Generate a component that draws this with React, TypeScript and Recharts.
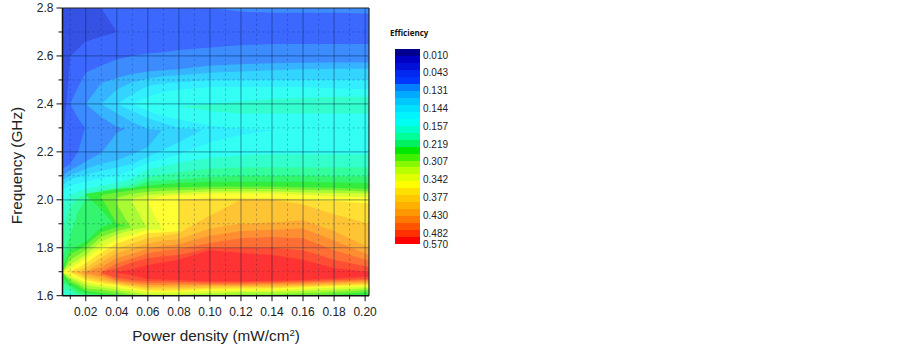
import { ComposedChart, Area, XAxis, YAxis, ReferenceLine } from "recharts";

const powerDensity = [0.005, 0.01, 0.015, 0.02, 0.03, 0.04, 0.05, 0.06, 0.07, 0.08, 0.1, 0.12, 0.14, 0.16, 0.18, 0.2025];

const xMajor = [0.02, 0.04, 0.06, 0.08, 0.1, 0.12, 0.14, 0.16, 0.18, 0.2];
const xMinor = [0.01, 0.03, 0.05, 0.07, 0.09, 0.11, 0.13, 0.15, 0.17, 0.19];
const yMajor = [1.6, 1.8, 2.0, 2.2, 2.4, 2.6, 2.8];
const yMinor = [1.7, 1.9, 2.1, 2.3, 2.5, 2.7];

const legendLabels = ["0.010", "0.043", "0.131", "0.144", "0.157", "0.219", "0.307", "0.342", "0.377", "0.430", "0.482"];
const legendLast = "0.570";
const legendColors = [
    "#000090", "#0000C4", "#0010D8", "#0028EE", "#0036FF", "#0080FF", "#00AAFF", "#00C8FF",
    "#00E0FF", "#00F4FF", "#00FFF0", "#00FFC8", "#00FF99", "#00F060", "#00E800", "#40F000",
    "#88F800", "#B8FF00", "#E0FF00", "#FFFF00", "#FFE000", "#FFC800", "#FFB000", "#FF9800",
    "#FF7800", "#FF5400", "#FF3000", "#FF0000",
];

const n = null;
const bottomEdge = [1.6, 1.6, 1.6, 1.6, 1.6, 1.6, 1.6, 1.6, 1.6, 1.6, 1.6, 1.6, 1.6, 1.6, 1.6, 1.6];
const topEdge = [2.8, 2.8, 2.8, 2.8, 2.8, 2.8, 2.8, 2.8, 2.8, 2.8, 2.8, 2.8, 2.8, 2.8, 2.8, 2.8];

// darkest blue corner
const cornerLow = [2.2, 2.6, 2.63, 2.66, 2.68, 2.7, n, n, n, n, n, n, n, n, n, n];
const cornerHigh = [2.8, 2.8, 2.8, 2.8, 2.8, 2.7, n, n, n, n, n, n, n, n, n, n];

// contour edges, frequency in GHz at each power density
const c2High = [2.13, 2.15, 2.2, 2.31, 2.31, 2.31, 2.31, 2.31, 2.31, 2.31, 2.31, 2.31, 2.31, 2.31, 2.31, 2.31];
const c2UpLow = [n, 2.4, 2.34, 2.295, 2.29, 2.29, 2.29, 2.29, 2.29, 2.29, 2.29, 2.29, 2.29, 2.29, 2.29, 2.29];
const c2UpHigh = [n, 2.4, 2.47, 2.53, 2.56, 2.585, 2.6, 2.61, 2.615, 2.625, 2.635, 2.645, 2.65, 2.65, 2.65, 2.65];
const c2TopLow = [n, n, n, n, n, n, n, n, n, n, 2.8, 2.785, 2.78, 2.78, 2.78, 2.777];
const c2TopHigh = [n, n, n, n, n, n, n, n, n, n, 2.8, 2.8, 2.8, 2.8, 2.8, 2.8];

const c3High = [2.1, 2.125, 2.14, 2.16, 2.195, 2.28, 2.31, 2.31, 2.31, 2.31, 2.31, 2.31, 2.31, 2.31, 2.31, 2.31];
const c3UpLow = [n, n, n, 2.4, 2.345, 2.305, 2.29, 2.29, 2.29, 2.29, 2.29, 2.29, 2.29, 2.29, 2.29, 2.29];
const c3UpHigh = [n, n, n, 2.4, 2.487, 2.508, 2.525, 2.535, 2.54, 2.545, 2.56, 2.565, 2.57, 2.572, 2.573, 2.573];

const c4High = [2.08, 2.105, 2.115, 2.13, 2.15, 2.165, 2.19, 2.22, 2.3, 2.31, 2.31, 2.31, 2.31, 2.31, 2.31, 2.31];
const c4UpLow = [n, n, n, n, 2.4, 2.36, 2.325, 2.295, 2.29, 2.29, 2.29, 2.29, 2.29, 2.29, 2.29, 2.29];
const c4UpHigh = [n, n, n, n, 2.4, 2.46, 2.49, 2.505, 2.515, 2.52, 2.53, 2.535, 2.54, 2.545, 2.547, 2.547];

const c5High = [2.06, 2.085, 2.095, 2.105, 2.12, 2.135, 2.15, 2.18, 2.21, 2.24, 2.31, 2.31, 2.31, 2.31, 2.31, 2.31];
const c5UpLow = [n, n, n, n, n, 2.4, 2.37, 2.34, 2.32, 2.3, 2.29, 2.29, 2.29, 2.29, 2.29, 2.29];
const c5UpHigh = [n, n, n, n, n, 2.4, 2.44, 2.475, 2.485, 2.49, 2.5, 2.5, 2.5, 2.5, 2.5, 2.5];

const c6High = [2.04, 2.06, 2.068, 2.075, 2.09, 2.1, 2.125, 2.155, 2.17, 2.19, 2.24, 2.27, 2.29, 2.31, 2.31, 2.31];
const c6UpLow = [n, n, n, n, n, n, 2.4, 2.37, 2.35, 2.335, 2.31, 2.295, 2.29, 2.29, 2.29, 2.29];
const c6UpHigh = [n, n, n, n, n, n, 2.4, 2.43, 2.45, 2.46, 2.47, 2.47, 2.47, 2.47, 2.465, 2.46];

const c7High = [1.98, 2.02, 2.035, 2.045, 2.06, 2.07, 2.09, 2.125, 2.14, 2.155, 2.175, 2.185, 2.19, 2.19, 2.19, 2.19];
const c7RidgeLow = [n, n, n, n, n, n, n, n, n, 2.39, 2.37, 2.36, 2.36, 2.36, 2.36, 2.36];
const c7RidgeHigh = [n, n, n, n, n, n, n, n, n, 2.39, 2.4, 2.41, 2.42, 2.425, 2.43, 2.43];

const c8Low = [1.63, 1.62, 1.6, 1.6, 1.6, 1.6, 1.6, 1.6, 1.6, 1.6, 1.6, 1.6, 1.6, 1.6, 1.6, 1.6];
const c8High = [1.87, 1.97, 2.01, 2.02, 2.04, 2.05, 2.065, 2.096, 2.105, 2.115, 2.13, 2.135, 2.135, 2.135, 2.135, 2.135];

const c9Low = [1.655, 1.635, 1.61, 1.6, 1.6, 1.6, 1.6, 1.6, 1.6, 1.6, 1.6, 1.6, 1.6, 1.6, 1.6, 1.6];
const c9High = [1.76, 1.85, 1.95, 2.0, 2.03, 2.04, 2.05, 2.076, 2.08, 2.085, 2.095, 2.1, 2.1, 2.1, 2.098, 2.097];

const c10Low = [1.675, 1.645, 1.625, 1.61, 1.605, 1.6, 1.6, 1.6, 1.6, 1.6, 1.6, 1.6, 1.6, 1.6, 1.6, 1.605];
const c10High = [1.72, 1.79, 1.81, 1.825, 1.885, 1.91, 1.95, 2.06, 2.065, 2.07, 2.075, 2.075, 2.075, 2.075, 2.072, 2.07];
const c10UpLow = [n, n, n, 2.02, 1.96, 1.885, 1.88, 1.88, n, n, n, n, n, n, n, n];
const c10UpHigh = [n, n, n, 2.025, 2.035, 2.045, 2.05, 2.06, n, n, n, n, n, n, n, n];

const c11Low = [1.695, 1.655, 1.64, 1.62, 1.612, 1.605, 1.6, 1.6, 1.6, 1.6, 1.6, 1.6, 1.6, 1.6, 1.605, 1.615];
const c11High = [1.7, 1.775, 1.79, 1.81, 1.865, 1.885, 1.9, 2.048, 2.05, 2.052, 2.055, 2.055, 2.055, 2.052, 2.05, 2.045];
const c11UpLow = [n, n, n, n, 2.01, 1.9, 1.89, 1.88, n, n, n, n, n, n, n, n];
const c11UpHigh = [n, n, n, n, 2.02, 2.03, 2.04, 2.048, n, n, n, n, n, n, n, n];

const c12Low = [1.697, 1.665, 1.65, 1.63, 1.625, 1.615, 1.605, 1.6, 1.6, 1.6, 1.6, 1.605, 1.605, 1.61, 1.615, 1.625];
const c12High = [1.7, 1.75, 1.77, 1.79, 1.845, 1.87, 1.885, 1.9, 2.038, 2.04, 2.045, 2.045, 2.045, 2.042, 2.04, 2.035];
const c12UpLow = [n, n, n, n, n, 1.98, 1.875, 1.87, 1.87, n, n, n, n, n, n, n];
const c12UpHigh = [n, n, n, n, n, 2.01, 2.025, 2.034, 2.038, n, n, n, n, n, n, n];

const c13Low = [1.698, 1.675, 1.66, 1.645, 1.635, 1.625, 1.615, 1.605, 1.605, 1.605, 1.61, 1.615, 1.615, 1.62, 1.625, 1.632];
const c13High = [1.7, 1.73, 1.75, 1.77, 1.825, 1.855, 1.875, 1.885, 1.895, 2.028, 2.035, 2.035, 2.035, 2.03, 2.028, 2.025];
const c13UpLow = [n, n, n, n, n, n, 1.99, 1.875, 1.87, 1.87, n, n, n, n, n, n];
const c13UpHigh = [n, n, n, n, n, n, 2.005, 2.02, 2.025, 2.028, n, n, n, n, n, n];

const c14Low = [1.699, 1.685, 1.67, 1.655, 1.645, 1.635, 1.625, 1.615, 1.615, 1.615, 1.62, 1.622, 1.622, 1.628, 1.633, 1.64];
const c14High = [1.7, 1.715, 1.735, 1.756, 1.8, 1.835, 1.855, 1.875, 1.875, 1.88, 2.025, 2.025, 2.025, 2.02, 2.015, 2.01];
const c14UpLow = [n, n, n, n, n, n, n, 1.99, 1.865, 1.86, 1.86, n, n, n, n, n];
const c14UpHigh = [n, n, n, n, n, n, n, 2.0, 2.015, 2.02, 2.025, n, n, n, n, n];

const c15Low = [n, 1.698, 1.68, 1.665, 1.652, 1.645, 1.632, 1.622, 1.622, 1.622, 1.628, 1.63, 1.63, 1.635, 1.64, 1.645];
const c15High = [n, 1.702, 1.715, 1.735, 1.78, 1.818, 1.84, 1.86, 1.865, 1.87, 1.88, 2.006, 2.006, 2.0, 1.995, 1.985];
const c15UpLow = [n, n, n, n, n, n, n, n, n, 1.85, 1.85, 1.85, n, n, n, n];
const c15UpHigh = [n, n, n, n, n, n, n, n, n, 2.0, 2.006, 2.006, n, n, n, n];

const c16Low = [n, 1.699, 1.69, 1.675, 1.66, 1.65, 1.64, 1.63, 1.63, 1.63, 1.633, 1.635, 1.635, 1.64, 1.645, 1.65];
const c16High = [n, 1.701, 1.705, 1.717, 1.76, 1.797, 1.818, 1.84, 1.85, 1.86, 1.935, 2.0, 2.0, 1.98, 1.94, 1.9];

const c17Low = [n, n, 1.698, 1.685, 1.67, 1.655, 1.645, 1.637, 1.637, 1.637, 1.64, 1.64, 1.642, 1.645, 1.65, 1.655];
const c17High = [n, n, 1.7, 1.7, 1.74, 1.777, 1.797, 1.818, 1.83, 1.835, 1.88, 1.9, 1.905, 1.915, 1.87, 1.8];

const c18Low = [n, n, n, 1.695, 1.68, 1.66, 1.652, 1.645, 1.645, 1.645, 1.645, 1.645, 1.648, 1.65, 1.655, 1.66];
const c18High = [n, n, n, 1.7, 1.72, 1.756, 1.775, 1.797, 1.808, 1.815, 1.85, 1.87, 1.875, 1.88, 1.83, 1.77];

const c19Low = [n, n, n, n, 1.69, 1.665, 1.658, 1.652, 1.652, 1.652, 1.65, 1.65, 1.652, 1.655, 1.66, 1.665];
const c19High = [n, n, n, n, 1.7, 1.735, 1.755, 1.777, 1.788, 1.795, 1.82, 1.84, 1.845, 1.84, 1.79, 1.745];

const c20Low = [n, n, n, n, 1.695, 1.675, 1.665, 1.66, 1.66, 1.658, 1.655, 1.655, 1.657, 1.66, 1.665, 1.67];
const c20High = [n, n, n, n, 1.7, 1.714, 1.74, 1.756, 1.765, 1.77, 1.8, 1.8, 1.8, 1.79, 1.75, 1.72];

const c21Low = [n, n, n, n, n, 1.695, 1.685, 1.67, 1.668, 1.665, 1.66, 1.66, 1.662, 1.665, 1.672, 1.68];
const c21High = [n, n, n, n, n, 1.7, 1.71, 1.728, 1.74, 1.75, 1.79, 1.778, 1.77, 1.75, 1.715, 1.7];

// painted in this order, each level on top of the one below it
const bands: [string, (number | null)[], (number | null)[]][] = [
    ["#3D68FF", bottomEdge, topEdge],
    ["#3552E4", cornerLow, cornerHigh],
    ["#3C8CFF", bottomEdge, c2High],
    ["#3C8CFF", c2UpLow, c2UpHigh],
    ["#3C8CFF", c2TopLow, c2TopHigh],
    ["#36B4FF", bottomEdge, c3High],
    ["#36B4FF", c3UpLow, c3UpHigh],
    ["#33D4FF", bottomEdge, c4High],
    ["#33D4FF", c4UpLow, c4UpHigh],
    ["#33EEFF", bottomEdge, c5High],
    ["#33EEFF", c5UpLow, c5UpHigh],
    ["#33FFF5", bottomEdge, c6High],
    ["#33FFF5", c6UpLow, c6UpHigh],
    ["#33FFCC", bottomEdge, c7High],
    ["#33FFCC", c7RidgeLow, c7RidgeHigh],
    ["#33FF9E", c8Low, c8High],
    ["#33F56E", c9Low, c9High],
    ["#33EC3C", c10Low, c10High],
    ["#33EC3C", c10UpLow, c10UpHigh],
    ["#70F033", c11Low, c11High],
    ["#70F033", c11UpLow, c11UpHigh],
    ["#A8FA33", c12Low, c12High],
    ["#A8FA33", c12UpLow, c12UpHigh],
    ["#DCFF33", c13Low, c13High],
    ["#DCFF33", c13UpLow, c13UpHigh],
    ["#FFFF33", c14Low, c14High],
    ["#FFFF33", c14UpLow, c14UpHigh],
    ["#FFDF33", c15Low, c15High],
    ["#FFDF33", c15UpLow, c15UpHigh],
    ["#FFC433", c16Low, c16High],
    ["#FFAA33", c17Low, c17High],
    ["#FF8E33", c18Low, c18High],
    ["#FF6E33", c19Low, c19High],
    ["#FF4E33", c20Low, c20High],
    ["#FF3333", c21Low, c21High],
];

const tableData = powerDensity.map((p, i) => {
    const row: Record<string, unknown> = { p };
    bands.forEach((b, k) => {
        row[`b${k}`] = [b[1][i], b[2][i]];
    });
    return row;
});

const FONT = "'Liberation Sans', Arial, sans-serif";
const TEXT = "#222";

function XTick({ x, y, payload }: any) {
    const major = xMajor.includes(payload.value);
    return (
        <g>
            <line x1={x} x2={x} y1={y} y2={y + (major ? 5.5 : 3.5)} stroke="#111" strokeWidth={1} />
            {major && (
                <text x={x} y={y + 20} textAnchor="middle" fontSize={12} fontFamily={FONT} fill={TEXT}>
                    {payload.value.toFixed(2)}
                </text>
            )}
        </g>
    );
}

function YTick({ x, y, payload }: any) {
    const major = yMajor.includes(payload.value);
    return (
        <g>
            <line x1={x} x2={x - (major ? 6 : 4)} y1={y} y2={y} stroke="#111" strokeWidth={1} />
            {major && (
                <text x={x - 9} y={y + 4} textAnchor="end" fontSize={12} fontFamily={FONT} fill={TEXT}>
                    {payload.value.toFixed(1)}
                </text>
            )}
        </g>
    );
}

function XTitle() {
    return (
        <text x={216} y={341} textAnchor="middle" fontSize={15.3} fontFamily={FONT} fill={TEXT}>
            Power density (mW/cm
            <tspan dy={-5} fontSize={9.5}>2</tspan>
            <tspan dy={5}>)</tspan>
        </text>
    );
}

function YTitle() {
    return (
        <text
            transform="translate(22,165.5) rotate(-90)"
            textAnchor="middle"
            fontSize={15.3}
            fontFamily={FONT}
            fill={TEXT}
        >
            Frequency (GHz)
        </text>
    );
}

export default function App() {
    return (
        <div style={{ position: "absolute", left: 0, top: 0, width: 903, height: 347, background: "#fff", overflow: "hidden" }}>
            <ComposedChart
                width={903}
                height={347}
                data={tableData}
                margin={{ top: 8, right: 534, bottom: 0, left: 0 }}
            >
                <XAxis
                    dataKey="p"
                    type="number"
                    domain={[0.005, 0.2025]}
                    ticks={[...xMajor, ...xMinor].sort((a, b) => a - b)}
                    interval={0}
                    height={51.3}
                    tickSize={0}
                    tickMargin={0}
                    tick={<XTick />}
                    stroke="#111"
                    strokeWidth={1.5}
                    label={{ content: <XTitle /> }}
                    allowDataOverflow
                />
                <YAxis
                    type="number"
                    domain={[1.6, 2.8]}
                    ticks={[...yMajor, ...yMinor].sort((a, b) => a - b)}
                    interval={0}
                    width={62.5}
                    tickSize={0}
                    tickMargin={0}
                    tick={<YTick />}
                    stroke="#111"
                    strokeWidth={1.5}
                    label={{ content: <YTitle /> }}
                    allowDataOverflow
                />
                {bands.map((b, k) => (
                    <Area
                        key={k}
                        dataKey={`b${k}`}
                        type="linear"
                        fill={b[0]}
                        fillOpacity={1}
                        stroke="none"
                        dot={false}
                        activeDot={false}
                        isAnimationActive={false}
                    />
                ))}
                {xMajor.map((v) => (
                    <ReferenceLine key={`xg${v}`} x={v} stroke="#00204A" strokeOpacity={0.38} strokeWidth={1.2} />
                ))}
                {xMinor.map((v) => (
                    <ReferenceLine key={`xm${v}`} x={v} stroke="#00204A" strokeOpacity={0.3} strokeDasharray="2 3" />
                ))}
                {yMajor.slice(1, -1).map((v) => (
                    <ReferenceLine key={`yg${v}`} y={v} stroke="#00204A" strokeOpacity={0.38} strokeWidth={1.2} />
                ))}
                {yMinor.map((v) => (
                    <ReferenceLine key={`ym${v}`} y={v} stroke="#00204A" strokeOpacity={0.3} strokeDasharray="2 3" />
                ))}
                <ReferenceLine y={2.8} stroke="#222" strokeWidth={1.2} />
                <ReferenceLine x={0.2025} stroke="#222" strokeWidth={1.2} />
            </ComposedChart>

            <div style={{ position: "absolute", left: 390, top: 27, fontFamily: "'Open Sans', sans-serif", fontWeight: 700, fontSize: 8, color: "#111" }}>
                Efficiency
            </div>
            <div style={{ position: "absolute", left: 395, top: 49, width: 24.5, height: 195, display: "flex", flexDirection: "column" }}>
                {legendColors.map((c) => (
                    <div key={c} style={{ flex: 1, background: c }} />
                ))}
            </div>
            {legendLabels.map((t, i) => (
                <div key={t} style={{ position: "absolute", left: 423, top: 49.5 + i * 17.82, fontFamily: FONT, fontSize: 10, lineHeight: "12px", color: TEXT }}>
                    {t}
                </div>
            ))}
            <div style={{ position: "absolute", left: 423, top: 239, fontFamily: FONT, fontSize: 10, lineHeight: "12px", color: TEXT }}>
                {legendLast}
            </div>
        </div>
    );
}
